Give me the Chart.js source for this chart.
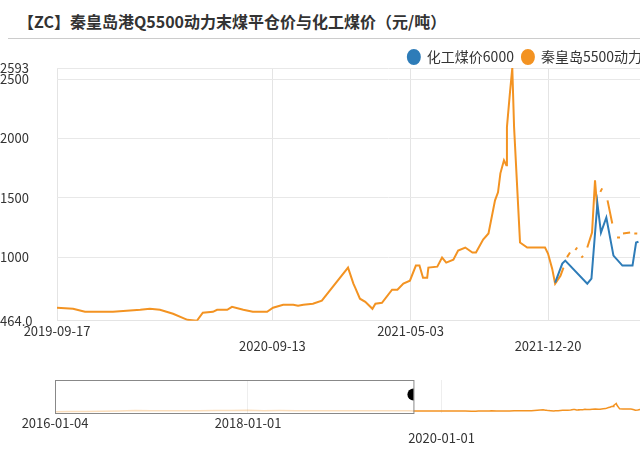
<!DOCTYPE html>
<html>
<head>
<meta charset="utf-8">
<script src="https://cdn.jsdelivr.net/npm/chart.js@4/dist/chart.umd.min.js"></script>
<style>
  body { margin: 0; width: 640px; height: 462px; overflow: hidden; background: #fff; font-family: "Noto Sans CJK SC", sans-serif; position: relative; }
  #title { position: absolute; left: 8px; top: 8px; width: 632px; height: 31px; border-bottom: 1px solid #ccc; font-size: 16px; font-weight: bold; color: #333; padding-left: 10px; box-sizing: border-box; line-height: 26px; }
  #main { position: absolute; left: 0; top: 42px; }
  #over { position: absolute; left: 0; top: 366px; }
</style>
</head>
<body>
<div id="title">【ZC】秦皇岛港Q5500动力末煤平仓价与化工煤价（元/吨）</div>
<div id="main"><canvas id="c1" width="720" height="314"></canvas></div>
<div id="over"><canvas id="c2" width="700" height="80"></canvas></div>
<script>
// main series: day offsets counted from baseDate
let baseDate = '2019-09-17';
let qhdDays = [0, 27, 47, 94, 140, 156, 173, 195, 219, 235, 245, 262, 269, 286, 294, 313, 329, 353, 363, 380,
  397, 405, 414, 430, 445, 489, 498, 501, 509, 518, 530, 535, 546, 563, 572, 582, 593, 603, 609, 615,
  622, 624, 639, 647, 654, 666, 674, 686, 698, 704, 716, 725, 736, 741, 745, 751, 755, 756, 761, 765,
  768, 778, 790, 820, 825, 832, 837, 846, 851, 854, 857, 862, 866, 871, 874, 878, 881, 884, 887, 891,
  899, 904, 908, 911, 913, 916, 920, 925, 933, 937, 941, 946, 948, 951, 963, 966, 970, 975];
let qhdValues = [574, 565, 540, 540, 557, 565, 557, 523, 472, 464, 532, 540, 557, 557, 582, 557, 540, 540, 574, 599,
  599, 590, 599, 608, 633, 912, 777, 743, 650, 624, 565, 608, 616, 726, 726, 777, 802, 929, 929, 827,
  827, 912, 920, 996, 954, 979, 1055, 1081, 1039, 1039, 1148, 1199, 1478, 1546, 1706, 1816, 1774, 2095, 2382, 2593,
  2095, 1123, 1081, 1081, 1030, 903, 777, 844, 912, null, 1000, 1039, null, 1060, 1081, null, 996, 1010, null, 1081,
  1207, 1647, 1393, null, 1550, 1579, null, 1478, 1284, null, 1165, 1165, null, 1199, 1207, null, 1200, 1199];
let hgDays = [837, 849, 854, 891, 898, 908, 914, 923, 935, 950, 967, 973, 977];
let hgValues = [785, 946, 971, 777, 819, 1453, 1207, 1334, 1013, 929, 929, 1123, 1130];
let xTickDates = ['2019-09-17', '2020-09-13', '2021-05-03', '2021-12-20'];
let yTicks = [464, 1000, 1500, 2000, 2500, 2593];

// overview (slider) series before the main window, monthly
let earlyMonths = ['2016-01-04', '2016-03', '2016-05', '2016-07', '2016-09', '2016-11', '2017-01', '2017-03', '2017-05',
  '2017-07', '2017-09', '2017-11', '2018-01', '2018-03', '2018-05', '2018-07', '2018-09', '2018-11', '2019-01',
  '2019-03', '2019-05', '2019-07', '2019-09'];
let earlyValues = [370, 380, 400, 450, 560, 680, 600, 640, 580, 620, 650, 700, 720, 630, 650, 640, 620, 600, 590,
  610, 620, 590, 580];
let overTickDates = ['2016-01-04', '2018-01-01', '2020-01-01'];

const DAY = 86400000;
const base = Date.parse(baseDate);
const dayOf = s => Math.round((Date.parse(s) - base) / DAY);
const dateOf = d => new Date(base + d * DAY).toISOString().slice(0, 10);

const orange = '#f39322';
const blue = '#2e7cb8';
const font = { family: '"Noto Sans CJK SC", sans-serif', size: 13 };

const qhd = qhdDays.map((d, i) => ({ x: d, y: qhdValues[i] }));
const hg = hgDays.map((d, i) => ({ x: d, y: hgValues[i] }));

// shorter legend box so the plot starts right under it
const legendHeight = {
  id: 'legendHeight',
  beforeInit(chart) {
    const fit = chart.legend.fit;
    chart.legend.fit = function () { fit.call(this); this.height = 26; };
  }
};

new Chart(document.getElementById('c1'), {
  type: 'line',
  data: {
    datasets: [
      { label: '化工煤价6000', data: hg, borderColor: blue, backgroundColor: blue, borderWidth: 2, pointRadius: 0, tension: 0 },
      { label: '秦皇岛5500动力末煤平仓价', data: qhd, borderColor: orange, backgroundColor: orange, borderWidth: 2, pointRadius: 0, spanGaps: false }
    ]
  },
  options: {
    responsive: false, animation: false,
    plugins: {
      legend: { position: 'top', align: 'end',
        labels: { usePointStyle: true, pointStyle: 'circle', boxWidth: 10, boxHeight: 10, pointStyleWidth: 12, font: { ...font, size: 14 }, color: '#333', padding: 8 } },
      tooltip: { enabled: false }
    },
    scales: {
      x: { type: 'linear', min: 0, max: 1114,
        afterBuildTicks: s => { s.ticks = xTickDates.map(t => ({ value: dayOf(t) })); },
        ticks: { font, color: '#333', maxRotation: 0, autoSkip: false, padding: 2,
          callback: (v, i) => i % 2 ? ['', dateOf(v)] : dateOf(v) },
        grid: { color: '#e4e4e4', drawTicks: false }, border: { color: '#e4e4e4' } },
      y: { min: 464, max: 2593,
        afterBuildTicks: s => { s.ticks = yTicks.map(v => ({ value: v })); },
        afterFit: s => { s.width = 57; },
        ticks: { font, color: '#333', crossAlign: 'far', padding: 4, callback: v => v === 464 ? '464.0' : v },
        grid: { color: '#e8e8e8', drawTicks: false }, border: { display: false } }
    }
  },
  plugins: [legendHeight]
});

// overview slider
const over = earlyMonths.map((m, i) => ({ x: dayOf(m.length === 7 ? m + '-01' : m), y: earlyValues[i] })).concat(qhd.filter(p => p.y !== null));
const winEnd = 0;
const windowBox = {
  id: 'windowBox',
  afterDatasetsDraw(chart) {
    const { ctx, chartArea, scales } = chart;
    const x0 = scales.x.getPixelForValue(dayOf(earlyMonths[0]));
    const x1 = scales.x.getPixelForValue(winEnd);
    ctx.save();
    ctx.strokeStyle = '#888'; ctx.lineWidth = 1;
    ctx.strokeRect(x0 + 0.5, chartArea.top + 0.5, x1 - x0, chartArea.bottom - chartArea.top);
    ctx.fillStyle = '#000';
    ctx.beginPath();
    ctx.arc(x1, (chartArea.top + chartArea.bottom) / 2 - 2, 6, Math.PI / 2, Math.PI * 1.5);
    ctx.fill();
    ctx.restore();
  }
};
new Chart(document.getElementById('c2'), {
  type: 'line',
  data: { datasets: [{ data: over, borderWidth: 1.5, pointRadius: 0,
    borderColor: orange,
    segment: { borderColor: c => c.p1.parsed.x <= winEnd ? 'rgba(243,147,34,0.3)' : orange } }] },
  options: {
    responsive: false, animation: false,
    layout: { padding: { left: 55, right: 0, top: 14 } },
    plugins: { legend: { display: false }, tooltip: { enabled: false } },
    scales: {
      x: { type: 'linear', min: dayOf('2016-01-04'), max: 1081,
        afterBuildTicks: s => { s.ticks = overTickDates.map(t => ({ value: dayOf(t) })); },
        ticks: { font, color: '#333', maxRotation: 0, autoSkip: false, padding: 2,
          callback: (v, i) => i === 2 ? ['', dateOf(v)] : dateOf(v) },
        grid: { color: '#eee', drawTicks: false }, border: { display: false } },
      y: { display: false, min: 0, max: 9000 }
    }
  },
  plugins: [windowBox]
});
</script>
</body>
</html>
